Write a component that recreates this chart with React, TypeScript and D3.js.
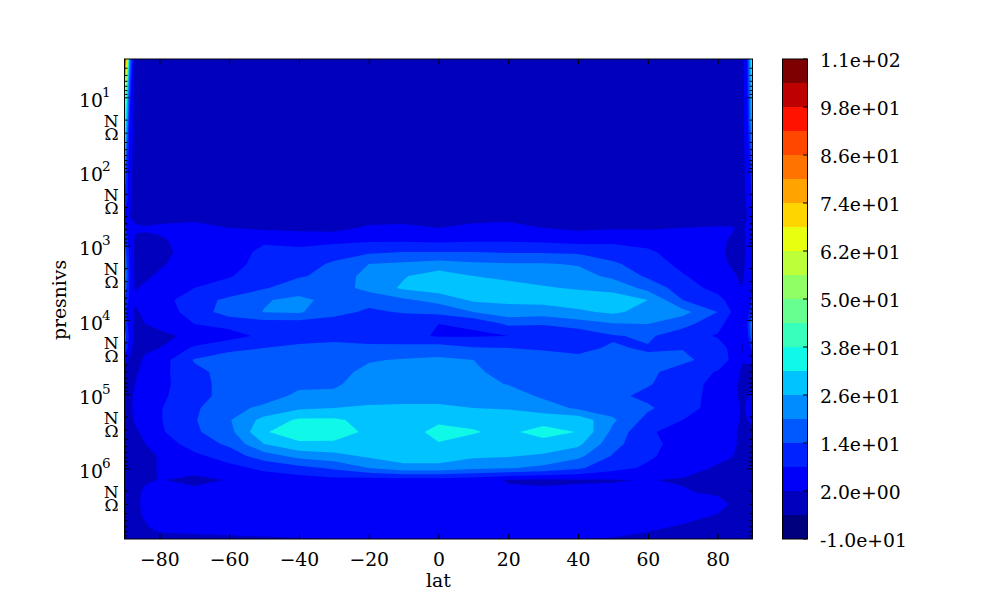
import React, { useRef, useEffect } from 'react';
import * as d3 from 'd3';

// latitudes of the field columns
const lats = [-90, -88.5, -87, -84, -80, -70, -60, -50, -40, -30, -20, -10, 0, 10, 20, 30, 40, 50, 60, 70, 80, 84, 87, 88.5, 90];

// pressure levels of the field rows, top of the plot first
const presnivs = [3.05, 20, 242, 398, 577, 837, 1216, 1762, 2558, 3715, 5395, 7820, 11350, 16450, 23880, 34670, 50330, 72950, 105900, 153800, 223000, 323600, 469900, 680800, 988600, 1435000, 2080000, 3020000, 4385000, 6353000, 8933000];

// field values, one array per latitude
const colS90 = [105, 45, 14, 6, 10, 14, 18, 20, 24, 18, 14, 10, 12, 18, 14, 3, 1, 0, 0, 0, 0, 0, 0, 0, 0, 0, 0, 0, 0, 0, -1];
const colS88 = [20, 6, 3, 2, 4, 5, 6, 7, 8, 7, 6, 5, 5, 6, 4, 1, 1, 0.5, 0.5, 0.5, 0.5, 0, 0, 0, 0, 0, 0, 0, 0, 0, -1];
const colS87 = [-1, 0, 0, 1, 2.5, 1.5, 1, 1, 1, 1.5, 3, 1, 1, 0, 0, 0, 1, 2, 3, 3.5, 2.5, 1, 0, 0, 0, 0, 0, 0, 0, 0, -1];
const colS84 = [-1, -1, -1, -1, 2.5, 1, 0, 0, 1, 3, 4, 3.5, 2, 0, 1, 3, 4, 4.5, 4, 4, 4, 3.5, 2, 0, 0, 1, 3.5, 4, 3, 1, -1];
const colS80 = [-1, -1, -1, -1, 3.5, 1, 0, 1, 3, 4, 5, 4, 3, 1, 2, 5, 6, 6.5, 7, 7.5, 7.5, 7, 4, 2.5, 2.5, 2.2, 5, 5, 5, 4, -1];
const colS70 = [-1, -1, -1, -1, 5, 5, 5, 6, 7, 8, 12, 11, 8, 3, 9, 14.5, 12.5, 11, 11, 13, 13.5, 13, 11, 6.5, 3.5, 1, 3, 4.5, 5, 4.5, 0];
const colS60 = [-1, -1, -1, -1, 2, 3.5, 5, 6, 7.5, 11, 15, 16.5, 10, 5.5, 13, 16, 16, 17, 17, 18.5, 19.5, 18, 15, 11, 6, 2.2, 4, 5, 5.5, 5, 0.5];
const colS50 = [-1, -1, -1, -1, 1, 7, 9.5, 10, 11.5, 13.5, 19.5, 20.2, 11, 9.5, 14, 15, 16, 17, 18, 21, 28, 31.5, 26, 17, 9.5, 4, 4.5, 5.5, 6, 5.5, 1];
const colS40 = [-1, -1, -1, -1, 0.5, 6, 9.5, 11, 13.5, 17, 21.5, 20.7, 11, 12, 15, 16.5, 17.5, 19, 21, 25, 33, 35, 31, 22, 12, 5, 5, 6, 6.5, 6, 1.5];
const colS30 = [-1, -1, -1, -1, 0, 6.5, 11, 15, 15.5, 17, 18, 16, 11, 12.5, 15.5, 17, 18, 19, 21.5, 26, 33, 34.5, 31, 24, 15, 6, 5, 6, 7, 6.5, 2];
const colS20 = [-1, -1, -1, -1, 3, 7, 13, 20, 22.5, 22, 16, 13, 10, 12, 15, 19.5, 21.5, 23, 24.5, 26.5, 30, 31, 30, 27, 20, 5, 4, 5, 6.5, 6, 2.5];
const colS10 = [-1, -1, -1, -1, 3.5, 7, 14, 21, 25.5, 27, 19, 14.5, 9.5, 9.5, 16, 20.5, 22.5, 24, 25, 26.5, 30, 30.5, 31, 29, 24, 5, 4, 5, 6, 5.5, 2.5];
const colEq = [-1, -1, -1, -1, 2, 6.5, 14, 22.5, 29, 29, 22, 15.5, 8, 7.5, 17, 21, 22, 23.5, 25, 26.5, 31.4, 33, 31.8, 29, 24, 5, 4, 5, 6, 5.5, 2];
const colN10 = [-1, -1, -1, -1, 4, 7, 14, 21, 26, 28.5, 27, 20, 8.5, 7.5, 14.5, 20, 21, 22, 24, 26, 31, 32.3, 30.5, 27, 21.5, 4.5, 3.5, 4.5, 5.5, 5, 2];
const colN20 = [-1, -1, -1, -1, 5, 7, 13.5, 20.5, 25, 27.5, 27, 24, 15, 8, 14, 16.5, 18, 19.7, 23, 25.5, 29.5, 31, 30, 26.5, 20.5, 1.5, 3, 4.5, 5.5, 5, 2];
const colN30 = [-1, -1, -1, -1, 2, 6.5, 13.5, 20.5, 24, 26.5, 28, 23, 14.5, 8.5, 13.5, 16, 17, 18, 19, 23, 30, 34, 30, 25, 18.5, 1, 3, 4.5, 5.5, 5, 2];
const colN40 = [-1, -1, -1, -1, 1, 5.5, 13, 19.5, 22.5, 25.5, 29, 25, 17, 9.5, 13, 15, 16, 16.5, 17.5, 19, 30, 31.8, 27.5, 21.5, 15, 1.5, 3, 4.5, 5.5, 5, 2];
const colN50 = [-1, -1, -1, -1, 1.5, 6.5, 11, 15, 18.5, 24.5, 28.5, 27, 19.5, 13.5, 14.5, 15, 15, 15, 15.5, 17, 21, 18.5, 16, 13.5, 10, 1.7, 3, 4.5, 5.5, 5, 1.5];
const colN60 = [-1, -1, -1, -1, 1.5, 5.5, 9, 11, 13, 18, 26, 24, 20, 15, 13.5, 15, 15, 14.5, 12.5, 15, 12, 8.5, 9.5, 9, 7, 2.2, 3.5, 4.5, 5, 3, 0];
const colN70 = [-1, -1, -1, -1, 2, 4, 5, 6.5, 8.5, 11, 14, 22, 16, 10.5, 13.8, 15, 12, 11, 11, 10, 8, 6.5, 6, 5, 4, 1.5, 2.5, 4.5, 4, 1, -1];
const colN80 = [-1, -1, -1, -1, 2.5, 3, 3, 3.5, 4.5, 6, 10, 14, 10, 7.5, 11, 12, 7.5, 6, 5.5, 6, 5.5, 5, 4.5, 3, 1.5, 0.5, 1, 4, 1.5, 0, -1];
const colN84 = [-1, -1, -1, -1, 2.5, 1.5, 1, 1.5, 3, 4.5, 6, 7.8, 5.5, 4, 6.5, 7, 4, 3.5, 3.5, 4, 3.5, 3, 3, 2.2, 1, 0.5, 0.5, 1.5, 0.5, 0, -1];
const colN87 = [-1, 0, 0, 0, 1, 0.5, 0.5, 0.5, 1, 2, 3, 4, 3.5, 2.5, 1.5, 2.2, 1.5, 1, 1, 1.5, 1.5, 1, 1, 1, 0.5, 0, 0, 0, 0, 0, -1];
const colN88 = [8, 6, 3, 2, 3, 3, 3, 3.5, 4, 5, 5, 6, 8, 6, 4, 2.5, 1, 1, 2, 2.5, 2, 1, 1, 1, 1, 1, 1, 1, 1, 1, 0];
const colN90 = [42, 30, 9, 5, 6, 6, 6, 7, 7, 8, 9, 12, 24, 20, 10, 3, 1, 2, 5, 8, 3, 1, 1, 1, 1, 1, 1, 1, 1, 1, 0];

const columns = [colS90, colS88, colS87, colS84, colS80, colS70, colS60, colS50, colS40, colS30, colS20, colS10, colEq, colN10, colN20, colN30, colN40, colN50, colN60, colN70, colN80, colN84, colN87, colN88, colN90];

const levels = [-10, -4, 2, 8, 14, 20, 26, 32, 38, 44, 50, 56, 62, 68, 74, 80, 86, 92, 98, 104, 110];
const levelColors = ['#00007f', '#0000bd', '#0000fa', '#0022ff', '#0058ff', '#008cff', '#00c3ff', '#0ff8e8', '#39ffbd', '#66ff90', '#90ff66', '#bdff39', '#e8ff0f', '#ffd500', '#ffa300', '#ff7400', '#ff4700', '#ff1200', '#bd0000', '#7f0000'];
const colorbarTicks = [-10, 2, 14, 26, 38, 50, 62, 74, 86, 98, 110];
const colorbarLabels = ['-1.0e+01', '2.0e+00', '1.4e+01', '2.6e+01', '3.8e+01', '5.0e+01', '6.2e+01', '7.4e+01', '8.6e+01', '9.8e+01', '1.1e+02'];
const latTicks = [-80, -60, -40, -20, 0, 20, 40, 60, 80];
const decades = [1, 2, 3, 4, 5, 6];
const minorMultiples = [2, 3, 4, 5, 6, 7, 8, 9];
const minorLabels = [[2, 'N'], [3, 'Ω']];

const FONT = '"DejaVu Serif", serif';
const FONT_SIZE = 18.8;

export default function App() {
  const svgRef = useRef(null);

  useEffect(() => {
    const svg = d3.select(svgRef.current);
    svg.selectAll('*').remove();

    const left = 124.5, right = 752.5, top = 59, bottom = 539;
    const xScale = d3.scaleLinear().domain([-90, 90]).range([left, right]);
    const yScale = d3.scaleLog().domain([3.05, 8933000]).range([top, bottom]);

    // contours work on grid indices, so map them back through the real levels
    const nx = lats.length, ny = presnivs.length;
    const xIndex = d3.scaleLinear().domain(d3.range(nx)).range(lats.map((d) => xScale(d))).clamp(true);
    const yIndex = d3.scaleLinear().domain(d3.range(ny)).range(presnivs.map((d) => yScale(d))).clamp(true);
    const values = [];
    presnivs.forEach((p, j) => lats.forEach((lat, i) => values.push(columns[i][j])));

    const contours = d3.contours().size([nx, ny]).thresholds(levels)(values);
    const path = d3.geoPath(
      d3.geoTransform({
        point(x, y) {
          this.stream.point(xIndex(x - 0.5), yIndex(y - 0.5));
        },
      })
    );

    svg
      .selectAll('.band')
      .data(contours.slice(0, levelColors.length))
      .join('path')
      .attr('class', 'band')
      .attr('d', (d) => path(d))
      .attr('fill', (d, i) => levelColors[i]);

    // x axis, ticks point inward on both sides
    const xAxis = svg.append('g').attr('transform', `translate(0,${bottom})`)
      .call(d3.axisBottom(xScale).tickValues(latTicks).tickSize(-5).tickPadding(14));
    svg.append('g').attr('transform', `translate(0,${top})`)
      .call(d3.axisTop(xScale).tickValues(latTicks).tickSize(-5).tickFormat(() => ''));

    // y axis, majors and minors on both sides
    const majors = decades.map((d) => Math.pow(10, d));
    const minors = [];
    [0, ...decades].forEach((d) => minorMultiples.forEach((m) => {
      const v = m * Math.pow(10, d);
      if (v > 3.05 && v < 8933000) minors.push(v);
    }));
    svg.append('g').attr('transform', `translate(${left},0)`)
      .call(d3.axisLeft(yScale).tickValues(majors).tickSize(-5).tickFormat(() => ''));
    svg.append('g').attr('transform', `translate(${right},0)`)
      .call(d3.axisRight(yScale).tickValues(majors).tickSize(-5).tickFormat(() => ''));
    svg.append('g').attr('transform', `translate(${left},0)`)
      .call(d3.axisLeft(yScale).tickValues(minors).tickSize(-3).tickFormat(() => ''));
    svg.append('g').attr('transform', `translate(${right},0)`)
      .call(d3.axisRight(yScale).tickValues(minors).tickSize(-3).tickFormat(() => ''));
    svg.selectAll('.domain').remove();

    xAxis.selectAll('text').attr('font-family', FONT).attr('font-size', FONT_SIZE).attr('fill', 'black');

    svg.append('rect')
      .attr('x', left).attr('y', top).attr('width', right - left).attr('height', bottom - top)
      .attr('fill', 'none').attr('stroke', 'black');

    const label = (x, y, txt, size = FONT_SIZE, anchor = 'start') =>
      svg.append('text').attr('x', x).attr('y', y).attr('text-anchor', anchor)
        .attr('font-family', FONT).attr('font-size', size).text(txt);

    // log tick labels, with the garbled minor glyphs of the original
    decades.forEach((d) => {
      const y = yScale(Math.pow(10, d));
      label(103, y + 9.7, '10', FONT_SIZE, 'end');
      label(102, y - 0.3, String(d), 13.5);
      minorLabels.forEach(([m, glyph]) => {
        label(118.5, yScale(m * Math.pow(10, d)) + 7, glyph, 17, 'end');
      });
    });

    label(438.5, 587, 'lat', FONT_SIZE, 'middle');
    svg.append('text')
      .attr('transform', `translate(66,300) rotate(-90)`)
      .attr('text-anchor', 'middle')
      .attr('font-family', FONT).attr('font-size', FONT_SIZE)
      .text('presnivs');

    // colorbar
    const barLeft = 783, barWidth = 24;
    const barScale = d3.scaleLinear().domain([-10, 110]).range([bottom, top]);
    svg.selectAll('.cbar')
      .data(levelColors)
      .join('rect')
      .attr('class', 'cbar')
      .attr('x', barLeft)
      .attr('width', barWidth)
      .attr('y', (d, i) => barScale(levels[i + 1]))
      .attr('height', (d, i) => barScale(levels[i]) - barScale(levels[i + 1]))
      .attr('fill', (d) => d);
    svg.append('rect')
      .attr('x', barLeft - 0.5).attr('y', top).attr('width', barWidth + 1).attr('height', bottom - top)
      .attr('fill', 'none').attr('stroke', 'black');
    colorbarTicks.forEach((t, i) => {
      const y = barScale(t);
      svg.append('line').attr('x1', barLeft + barWidth - 4).attr('x2', barLeft + barWidth).attr('y1', y).attr('y2', y).attr('stroke', 'black');
      label(820, y + 8, colorbarLabels[i]);
    });
  }, []);

  return (
    <svg
      ref={svgRef}
      width={1000}
      height={600}
      style={{ position: 'absolute', left: 0, top: 0, background: 'white' }}
    />
  );
}
